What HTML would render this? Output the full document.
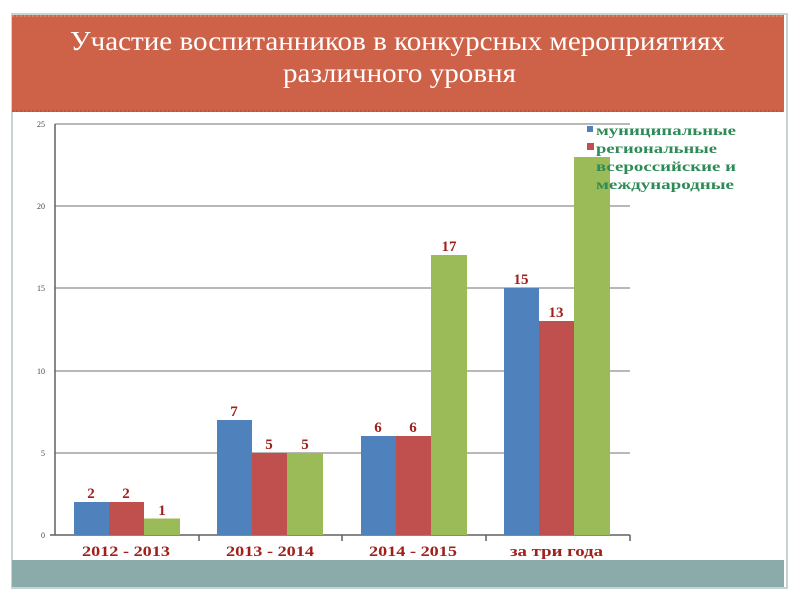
<!DOCTYPE html>
<html><head><meta charset="utf-8"><style>
body{margin:0;width:800px;height:600px;background:#fff;overflow:hidden;font-family:"Liberation Serif",serif}
</style></head><body>
<svg width="800" height="600" xmlns="http://www.w3.org/2000/svg">
<rect x="12" y="14" width="775" height="574" fill="#fff" stroke="#c8d4d4" stroke-width="2"/>
<rect x="12" y="15" width="772" height="97" fill="#CD6249"/>
<line x1="12" y1="16" x2="784" y2="16" stroke="#e8a090" stroke-dasharray="2,2"/>
<line x1="12" y1="111" x2="784" y2="111" stroke="#a84a36" stroke-dasharray="2,2"/>
<text x="70" y="50" textLength="655" lengthAdjust="spacingAndGlyphs" font-size="27" fill="#fff" font-family="Liberation Serif">Участие воспитанников в конкурсных мероприятиях</text>
<text x="283" y="82" textLength="233" lengthAdjust="spacingAndGlyphs" font-size="27" fill="#fff" font-family="Liberation Serif">различного уровня</text>
<rect x="12" y="560" width="772" height="27" fill="#8AABAA"/>
<g stroke="#a0a0a0" stroke-width="1.5">
<line x1="55" y1="124" x2="630" y2="124"/><line x1="55" y1="206" x2="630" y2="206"/>
<line x1="55" y1="288" x2="630" y2="288"/><line x1="55" y1="371" x2="630" y2="371"/>
<line x1="55" y1="453" x2="630" y2="453"/>
</g>
<g stroke="#606060" stroke-width="1.5">
<line x1="55" y1="124" x2="55" y2="535"/><line x1="50" y1="535" x2="630" y2="535"/>
<line x1="199" y1="535" x2="199" y2="541"/><line x1="342" y1="535" x2="342" y2="541"/>
<line x1="486" y1="535" x2="486" y2="541"/><line x1="630" y1="535" x2="630" y2="541"/>
</g>
<g font-size="8" fill="#444" text-anchor="end">
<text x="45" y="127">25</text><text x="45" y="209">20</text><text x="45" y="291">15</text>
<text x="45" y="374">10</text><text x="45" y="456">5</text><text x="45" y="538">0</text>
</g>
<g>
<rect x="74" y="502" width="35" height="33" fill="#4F81BD"/><rect x="109" y="502" width="35" height="33" fill="#C0504D"/><rect x="144" y="518.5" width="36" height="16.5" fill="#9BBB59"/>
<rect x="217" y="420" width="35" height="115" fill="#4F81BD"/><rect x="252" y="453" width="35" height="82" fill="#C0504D"/><rect x="287" y="453" width="36" height="82" fill="#9BBB59"/>
<rect x="361" y="436" width="35" height="99" fill="#4F81BD"/><rect x="396" y="436" width="35" height="99" fill="#C0504D"/><rect x="431" y="255" width="36" height="280" fill="#9BBB59"/>
<rect x="504" y="288" width="35" height="247" fill="#4F81BD"/><rect x="539" y="321" width="35" height="214" fill="#C0504D"/><rect x="574" y="157" width="36" height="378" fill="#9BBB59"/>
</g>
<g font-size="15" font-weight="bold" fill="#A0201C" text-anchor="middle">
<text x="91" y="498">2</text><text x="126" y="498">2</text><text x="162" y="515">1</text>
<text x="234" y="416">7</text><text x="269" y="449">5</text><text x="305" y="449">5</text>
<text x="378" y="432">6</text><text x="413" y="432">6</text><text x="449" y="251">17</text>
<text x="521" y="284">15</text><text x="556" y="317">13</text>
</g>
<g font-size="15" font-weight="bold" fill="#A0201C">
<text x="82" y="556" textLength="88" lengthAdjust="spacingAndGlyphs">2012 - 2013</text>
<text x="226" y="556" textLength="88" lengthAdjust="spacingAndGlyphs">2013 - 2014</text>
<text x="369" y="556" textLength="88" lengthAdjust="spacingAndGlyphs">2014 - 2015</text>
<text x="510" y="556" textLength="93" lengthAdjust="spacingAndGlyphs">за три года</text>
</g>
<rect x="587" y="126" width="6" height="6" fill="#4F81BD"/>
<rect x="587" y="143" width="7" height="7" fill="#C0504D"/>
<g font-size="14" font-weight="bold" fill="#2E8B57">
<text x="596" y="135" textLength="140" lengthAdjust="spacingAndGlyphs">муниципальные</text>
<text x="596" y="153" textLength="121" lengthAdjust="spacingAndGlyphs">региональные</text>
<text x="596" y="171" textLength="140" lengthAdjust="spacingAndGlyphs">всероссийские и</text>
<text x="596" y="189" textLength="138" lengthAdjust="spacingAndGlyphs">международные</text>
</g>
</svg>
</body></html>
